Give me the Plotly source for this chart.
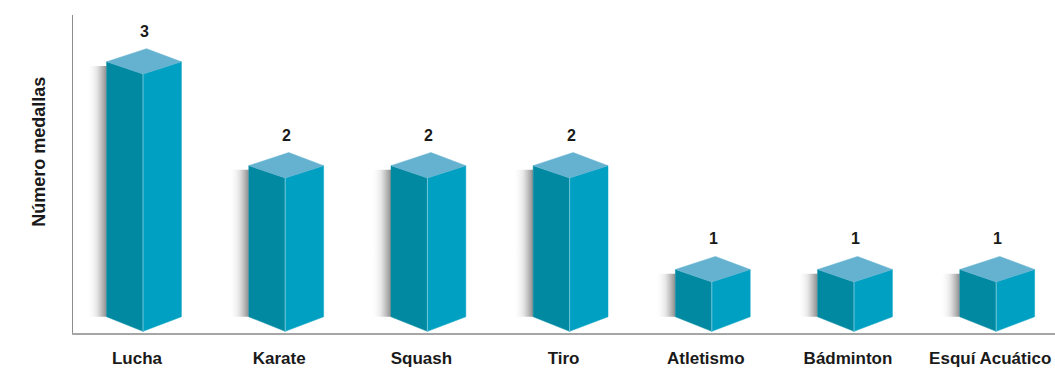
import plotly.graph_objects as go

categories = ["Lucha", "Karate", "Squash", "Tiro", "Atletismo", "Bádminton", "Esquí Acuático"]
medals = [3, 2, 2, 2, 1, 1, 1]

# pseudo-3D box geometry (in axis units)
FLOOR = 0.545      # value where the box's rear floor sits
HL = 0.256         # left face width
HR = 0.27          # right face width
DYF = 0.119        # drop of front top vertex
DYB = 0.126        # rise of back top vertex
DXB = 0.025        # x offset of back top vertex
DYF_BOT = 0.14     # drop of front bottom vertex
SH_W = 0.14        # shadow width

C_LEFT = "#0089A0"
C_RIGHT = "#00A0C3"
C_TOP = "#64B2D0"
FONT = "Liberation Sans, Arial, sans-serif"

fig = go.Figure()

# shadows
for i, v in enumerate(medals):
    x0 = i - HL
    fig.add_trace(go.Scatter(
        x=[x0 - SH_W, x0, x0, x0 - SH_W, x0 - SH_W],
        y=[v - 0.04, v - 0.04, FLOOR, FLOOR, v - 0.04],
        mode="lines", line=dict(width=0), fill="toself",
        fillgradient=dict(type="horizontal",
                          colorscale=[[0, "rgba(255,255,255,0)"], [0.5, "rgba(225,225,225,0.8)"],
                                      [1, "rgba(140,140,140,1)"]]),
        hoverinfo="skip", showlegend=False))

lx, ly, rx, ry, tx, ty, ex, ey = [], [], [], [], [], [], [], []
for i, v in enumerate(medals):
    lx += [i - HL, i, i, i - HL, i - HL, None]
    ly += [v, v - DYF, FLOOR - DYF_BOT, FLOOR, v, None]
    rx += [i, i + HR, i + HR, i, i, None]
    ry += [v - DYF, v, FLOOR, FLOOR - DYF_BOT, v - DYF, None]
    tx += [i - HL, i + DXB, i + HR, i, i - HL, None]
    ty += [v, v + DYB, v, v - DYF, v, None]
    ex += [i, i, None]
    ey += [v - DYF, FLOOR - DYF_BOT, None]

for xs, ys, c in [(lx, ly, C_LEFT), (rx, ry, C_RIGHT), (tx, ty, C_TOP)]:
    fig.add_trace(go.Scatter(x=xs, y=ys, mode="lines", line=dict(width=0.5, color=c),
                             fill="toself", fillcolor=c, hoverinfo="skip", showlegend=False))
fig.add_trace(go.Scatter(x=ex, y=ey, mode="lines", line=dict(width=1, color="rgba(140,205,222,0.8)"),
                         hoverinfo="skip", showlegend=False))

for i, v in enumerate(medals):
    fig.add_annotation(x=i + 0.01, y=v + DYB, text=str(v), showarrow=False,
                       yanchor="bottom", yshift=7,
                       font=dict(family=FONT, size=16, color="#1a1a1a", weight="bold"))

fig.add_annotation(xref="paper", yref="paper", x=-34 / 982, y=0.57, xanchor="center", yanchor="middle",
                   text="Número medallas", textangle=-90, showarrow=False,
                   font=dict(family=FONT, size=18, color="#1a1a1a", weight="bold"))

fig.update_layout(
    width=1055, height=370,
    margin=dict(l=73, r=0, t=15, b=37, autoexpand=False),
    paper_bgcolor="white", plot_bgcolor="white",
    xaxis=dict(range=[-0.4923, 6.4135], tickvals=list(range(len(categories))), ticktext=categories,
               showline=True, linecolor="#a6a6a6", linewidth=2, showgrid=False, zeroline=False,
               automargin=False, ticks="", ticklabelstandoff=9, ticklabelshift=-6,
               ticklabeloverflow="allow",
               tickfont=dict(family=FONT, size=17, color="#1a1a1a", weight="bold")),
    yaxis=dict(range=[0.389, 3.45], showline=True, linecolor="#8c8c8c", linewidth=1.2,
               automargin=False,
               showgrid=False, zeroline=False, showticklabels=False, ticks=""),
)

fig.write_html("out.html", config={"displayModeBar": False},
               post_script="document.body.style.margin='0';document.body.style.overflow='hidden';")
